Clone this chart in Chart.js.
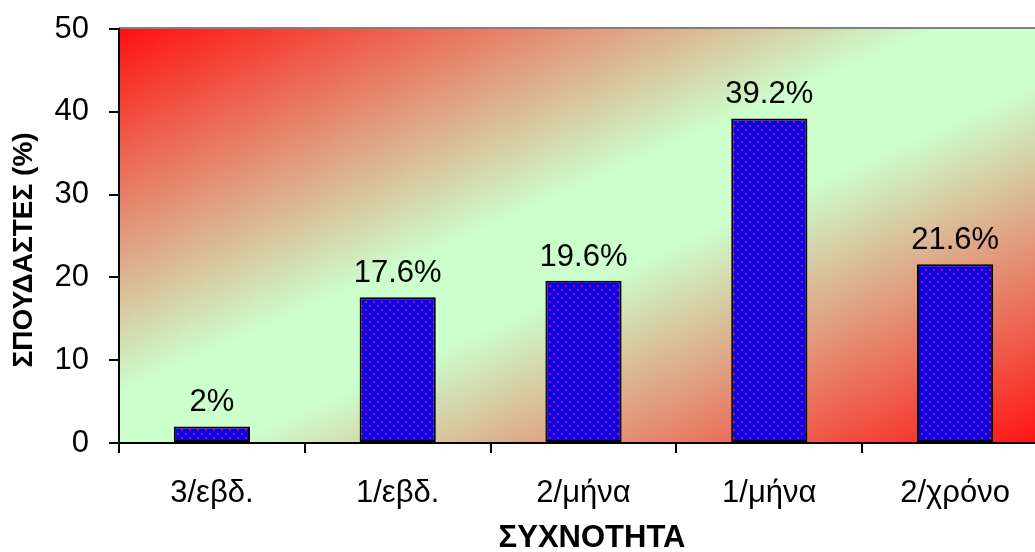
<!DOCTYPE html>
<html>
<head>
    <meta charset="UTF-8">
    <script src="https://cdn.jsdelivr.net/npm/chart.js@4.4.0/dist/chart.umd.min.js"></script>
    <style>
        html, body { margin: 0; padding: 0; background: #fff; overflow: hidden; }
        #wrap { width: 1050px; height: 552px; }
    </style>
</head>
<body>
<div id="wrap">
    <canvas id="freq-graph" width="1050" height="552"></canvas>
</div>

<script>
    // Data
    var categories = ["3/εβδ.", "1/εβδ.", "2/μήνα", "1/μήνα", "2/χρόνο"];
    var percentValues = [2, 17.6, 19.6, 39.2, 21.6];
    var yTicks = [0, 10, 20, 30, 40, 50];
    var xTitle = "ΣΥΧΝΟΤΗΤΑ";
    var yTitle = "ΣΠΟΥΔΑΣΤΕΣ (%)";

    var FONT = "'Liberation Sans', Arial, sans-serif";

    // blue fill with red dots, like the Excel pattern
    function makePattern() {
        var c = document.createElement("canvas");
        c.width = 8;
        c.height = 8;
        var p = c.getContext("2d");
        p.fillStyle = "#0000ff";
        p.fillRect(0, 0, 8, 8);
        [[1, 1], [5, 5]].forEach(function (d) {
            p.fillStyle = "#ff0000";
            p.fillRect(d[0], d[1], 2, 2);
        });
        return p.createPattern(c, "repeat");
    }

    var plotBackground = {
        id: "plotBackground",
        beforeDraw: function (chart) {
            var a = chart.chartArea;
            var ctx = chart.ctx;
            ctx.save();
            ctx.translate(a.left, a.top);
            ctx.scale(a.right - a.left, a.bottom - a.top);
            var g = ctx.createLinearGradient(0, 0, 1, 1);
            g.addColorStop(0, "#ff1010");
            g.addColorStop(0.44, "#ccffcc");
            g.addColorStop(0.56, "#ccffcc");
            g.addColorStop(1, "#ff1010");
            ctx.fillStyle = g;
            ctx.fillRect(0, 0, 1, 1);
            ctx.restore();

            ctx.save();
            ctx.strokeStyle = "#808080";
            ctx.lineWidth = 2;
            ctx.beginPath();
            ctx.moveTo(a.left, a.top - 1);
            ctx.lineTo(a.right, a.top - 1);
            ctx.stroke();
            ctx.restore();
        }
    };

    var barLabels = {
        id: "barLabels",
        afterDatasetsDraw: function (chart) {
            var ctx = chart.ctx;
            var meta = chart.getDatasetMeta(0);
            ctx.save();
            ctx.font = "31px " + FONT;
            ctx.fillStyle = "#000";
            ctx.textAlign = "center";
            ctx.textBaseline = "alphabetic";
            meta.data.forEach(function (bar, i) {
                ctx.fillText(percentValues[i] + "%", bar.x, bar.y - 15);
            });
            ctx.restore();
        },
        afterDraw: function (chart) {
            // axis titles, placed a little off-centre as in the original
            var ctx = chart.ctx;
            ctx.save();
            ctx.fillStyle = "#000";
            ctx.textAlign = "center";
            ctx.textBaseline = "middle";
            ctx.font = "bold 31px " + FONT;
            ctx.fillText(xTitle, 592, 538);
            ctx.translate(24, 250);
            ctx.rotate(-Math.PI / 2);
            ctx.font = "bold 28px " + FONT;
            ctx.fillText(yTitle, 0, 0);
            ctx.restore();
        }
    };

    var ctx = document.getElementById("freq-graph").getContext("2d");
    var FreqChart = new Chart(ctx, {
        type: "bar",
        data: {
            labels: categories,
            datasets: [{
                data: percentValues,
                backgroundColor: makePattern(),
                borderColor: "#000",
                borderWidth: 2,
                borderSkipped: false,
                barPercentage: 0.41,
                categoryPercentage: 1
            }]
        },
        options: {
            responsive: false,
            animation: false,
            devicePixelRatio: 1,
            layout: { padding: { left: 0, top: 29, right: 2, bottom: 0 } },
            plugins: {
                legend: { display: false },
                tooltip: { enabled: false }
            },
            scales: {
                x: {
                    afterFit: function (s) { s.height = 109; },
                    grid: {
                        offset: true,
                        drawOnChartArea: false,
                        drawTicks: true,
                        tickLength: 10,
                        color: "#000",
                        lineWidth: 2
                    },
                    border: { display: true, color: "#000", width: 2 },
                    ticks: {
                        color: "#000",
                        padding: 22,
                        font: { family: FONT, size: 31 }
                    }
                },
                y: {
                    min: 0,
                    max: 50,
                    afterFit: function (s) {
                        s.width = 119;
                        s.paddingTop = 10;
                        s.paddingBottom = 10;
                    },
                    afterBuildTicks: function (s) {
                        s.ticks = yTicks.map(function (v) { return { value: v }; });
                    },
                    grid: {
                        drawOnChartArea: false,
                        drawTicks: true,
                        tickLength: 10,
                        color: "#000",
                        lineWidth: 2
                    },
                    border: { display: true, color: "#000", width: 2 },
                    ticks: {
                        color: "#000",
                        padding: 20,
                        font: { family: FONT, size: 31 }
                    }
                }
            }
        },
        plugins: [plotBackground, barLabels]
    });
</script>
</body>
</html>
